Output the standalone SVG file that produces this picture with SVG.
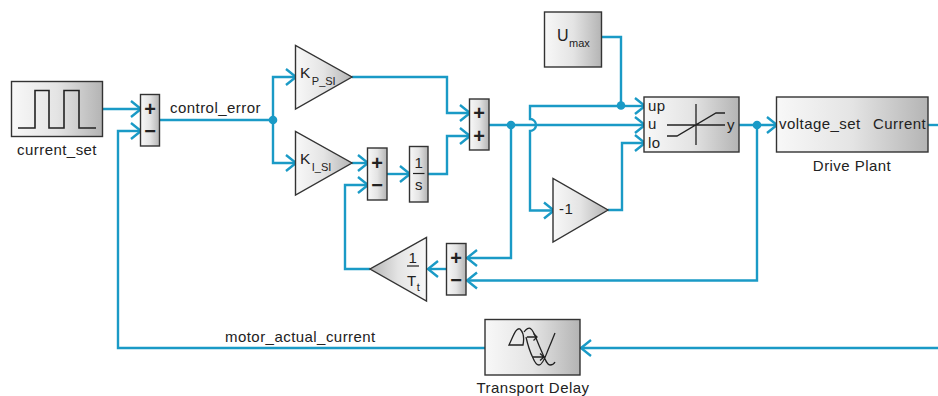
<svg xmlns="http://www.w3.org/2000/svg" width="938" height="396" viewBox="0 0 938 396">
<style>
text{font-family:"Liberation Sans",Arial,sans-serif;fill:#222;font-size:15px;letter-spacing:.45px}
.b{stroke:#333;stroke-width:1.4;fill:url(#g)}
.c{fill:none;stroke:#1a9ac6;stroke-width:2.4}
.a{marker-end:url(#ar)}
.i{fill:none;stroke:#222;stroke-width:1.6}
.t{fill:none;stroke:#222;stroke-width:1.3}
text.s{font-size:20px;font-weight:bold;text-anchor:middle;letter-spacing:0}
.m{text-anchor:middle}
tspan.u{font-size:11px;letter-spacing:0}
.dot{fill:#1a9ac6}
</style>
<defs>
<linearGradient id="g" x1="0" y1="0" x2="1" y2="0"><stop offset="0" stop-color="#f8f8f8"/><stop offset="0.5" stop-color="#e4e4e4"/><stop offset="1" stop-color="#b4b4b4"/></linearGradient>
<linearGradient id="gr" x1="1" y1="0" x2="0" y2="0"><stop offset="0" stop-color="#f8f8f8"/><stop offset="0.5" stop-color="#e4e4e4"/><stop offset="1" stop-color="#b4b4b4"/></linearGradient>
<marker id="ar" markerUnits="userSpaceOnUse" markerWidth="14" markerHeight="20" refX="12" refY="9" orient="auto" overflow="visible"><path d="M2,1 L12,9 L2,17" fill="none" stroke="#1a9ac6" stroke-width="2.4"/></marker>
</defs>
<g id="connectors">
<path class="c a" d="M102,109H141"/>
<path class="c" d="M485,348H118V131H130"/>
<path class="c a" d="M130,131H141"/>
<path class="c" d="M159,120H273"/>
<path class="c a" d="M273,120V77H296"/>
<path class="c a" d="M273,120V163H296"/>
<path class="c a" d="M352,77H447V113H470"/>
<path class="c a" d="M352,163H368"/>
<path class="c a" d="M387,174H410"/>
<path class="c a" d="M428,174H447V136H470"/>
<path class="c a" d="M489,125H645"/>
<path class="c a" d="M511,125V258H467"/>
<path class="c a" d="M446,269H428"/>
<path class="c a" d="M370,269H345V185H368"/>
<path class="c a" d="M621,106H530V119A6,6 0 0 1 530,131V210.500H554"/>
<path class="c a" d="M621,106H645"/>
<path class="c a" d="M608,210H622V143H645"/>
<path class="c" d="M601,37H621V106"/>
<path class="c a" d="M739,125H777"/>
<path class="c a" d="M757,125V280.500H467"/>
<path class="c" d="M928,125H938"/>
<path class="c a" d="M938,348H581"/>
<circle class="dot" cx="273" cy="120" r="4.300"/>
<circle class="dot" cx="511" cy="125" r="4.300"/>
<circle class="dot" cx="621" cy="105.500" r="4.300"/>
<circle class="dot" cx="757" cy="125" r="4.300"/>
</g>
<g id="current_set">
<rect class="b" x="11.500" y="81.500" width="91" height="55"/>
<path class="i" d="M18,128H35V90.500H49V128H64V90.500H79V128H96"/>
<text class="m" x="57" y="155">current_set</text>
</g>
<g id="sum1">
<rect class="b" x="140.500" y="94.500" width="19" height="51.500"/>
<text class="s" x="150" y="116">+</text><text class="s" x="150" y="138">−</text>
</g>
<g id="control_error_label"><text x="170" y="113">control_error</text></g>
<g id="kp">
<polygon class="b" points="295.500,45.500 295.500,109 352,77"/>
<text x="300" y="78" style="font-size:15.500px">K<tspan class="u" dx="1" dy="6.500">P_SI</tspan></text>
</g>
<g id="ki">
<polygon class="b" points="295.500,131.500 295.500,195 352,163"/>
<text x="300" y="164" style="font-size:15.500px">K<tspan class="u" dx="1" dy="6.500">I_SI</tspan></text>
</g>
<g id="sum2">
<rect class="b" x="367.500" y="148" width="19.500" height="52"/>
<text class="s" x="377" y="170">+</text><text class="s" x="377" y="192">−</text>
</g>
<g id="integrator">
<rect class="b" x="409.500" y="146.500" width="18.500" height="55.500"/>
<text class="m" x="419" y="168">1</text>
<path d="M413,173.500H424.500" stroke="#222" stroke-width="1.2"/>
<text class="m" x="419" y="190">s</text>
</g>
<g id="sum3">
<rect class="b" x="469.500" y="99" width="19.500" height="51"/>
<text class="s" x="479" y="120">+</text><text class="s" x="479" y="143">+</text>
</g>
<g id="umax">
<rect class="b" x="544.500" y="12" width="57" height="55"/>
<text x="557" y="41" style="font-size:16px">U<tspan class="u" dx="0" dy="6">max</tspan></text>
</g>
<g id="saturation">
<rect class="b" x="644" y="97" width="95" height="55"/>
<text x="648" y="111">up</text><text x="648" y="129">u</text><text x="648" y="148">lo</text>
<text x="727" y="130">y</text>
<path class="t" d="M696,104V145M667,125H725M667,136H677L716,113H725"/>
</g>
<g id="neg">
<polygon class="b" points="553,178.500 553,242 608,210"/>
<text x="559" y="214">-1</text>
</g>
<g id="drive_plant">
<rect class="b" x="776.500" y="97" width="151.500" height="55"/>
<text x="779" y="129">voltage_set</text><text x="873" y="129">Current</text>
<text class="m" x="852" y="170.500">Drive Plant</text>
</g>
<g id="sum4">
<rect class="b" x="446.500" y="243.500" width="19.500" height="51.500"/>
<text class="s" x="456" y="265">+</text><text class="s" x="456" y="287">−</text>
</g>
<g id="tt">
<polygon points="426.500,237.500 426.500,301 370,269" stroke="#333" stroke-width="1.4" fill="url(#gr)"/>
<text class="m" x="413" y="263">1</text>
<path d="M407,266H419" stroke="#222" stroke-width="1.2"/>
<text x="407" y="286">T<tspan class="u" dy="5">t</tspan></text>
</g>
<g id="transport_delay">
<rect class="b" x="485" y="319.500" width="95" height="55.500"/>
<path class="t" d="M509,345H523C524,340 524,333 520,329C516,327 513,337 509,345ZM524,332C526,329 529,327 531,329C534,331 536,339 541,350C545,359 547,365 550,365C552,365 554,364 555,362M526,337C528,346 531,354 533,358C535,363 537,365 539,365C543,365 546,355 548,350C551,343 553,338 555,333"/>
<path class="t" d="M527,337H536M533.500,333.500L537,337L533.500,340.500M533,357H543M540,353.500L544,357L540,360.500"/>
<text class="m" x="533" y="393">Transport Delay</text>
</g>
<g id="motor_label"><text x="225" y="341.500">motor_actual_current</text></g>
</svg>
